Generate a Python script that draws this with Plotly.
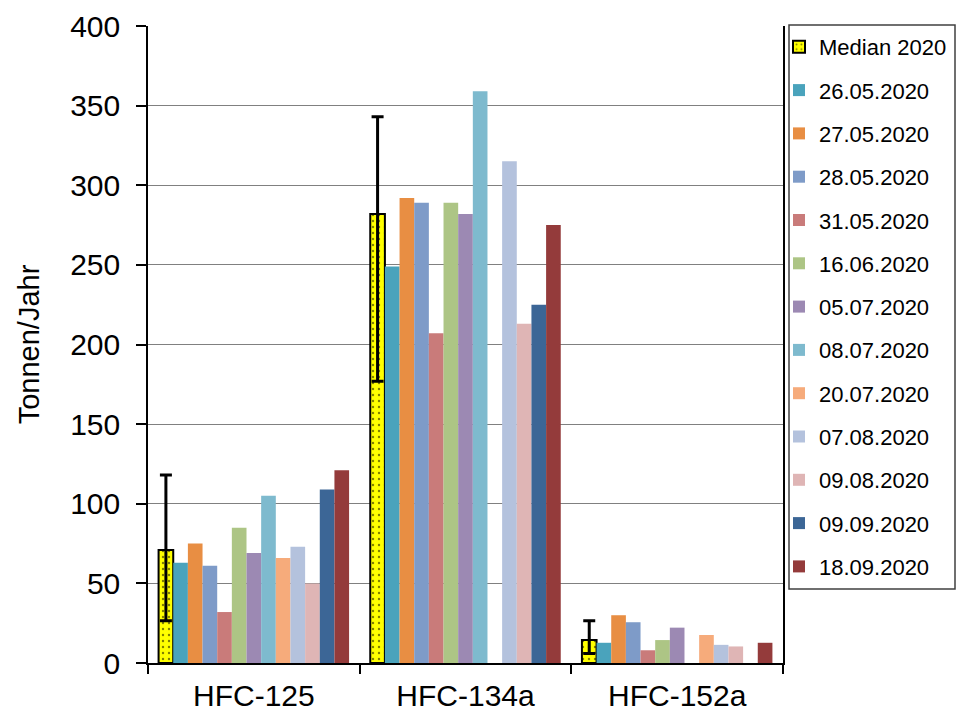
import plotly.graph_objects as go

categories = ["HFC-125", "HFC-134a", "HFC-152a"]

median_2020 = [71, 282, 14.4]
median_upper = [118, 343, 26.5]
median_lower = [26.5, 177, 6]

dates = ["26.05.2020", "27.05.2020", "28.05.2020", "31.05.2020", "16.06.2020",
         "05.07.2020", "08.07.2020", "20.07.2020", "07.08.2020", "09.08.2020",
         "09.09.2020", "18.09.2020"]

hfc125 = [63, 75, 61, 32, 85, 69, 105, 66, 73, 50, 109, 121]
hfc134a = [249, 292, 289, 207, 289, 282, 359, None, 315, 213, 225, 275]
hfc152a = [12.7, 30, 25.6, 8, 14.4, 22.2, None, 17.6, 11.4, 10.4, None, 12.7]

colors = ["#4AA3BC", "#E88E43", "#7E9BC8", "#C97B7A", "#ADC585", "#9C89B3",
          "#7EBACE", "#F6AB7B", "#B4C2DD", "#DFB5B5", "#3C6696", "#943B3B"]

FONT = "Arial, Liberation Sans, sans-serif"

fig = go.Figure()

err_plus = [u - m for u, m in zip(median_upper, median_2020)]
err_minus = [m - l for m, l in zip(median_2020, median_lower)]

fig.add_trace(go.Bar(
    x=categories, y=median_2020, name="Median 2020", legendgroup="g0",
    marker=dict(color="#FFFF00", line=dict(color="black", width=2),
                pattern=dict(shape=".", fgcolor="black", bgcolor="#FFFF00",
                             size=6, solidity=0.12)),
    error_y=dict(type="data", array=err_plus, arrayminus=err_minus,
                 color="black", thickness=3, width=6),
))

for i, (d, c) in enumerate(zip(dates, colors)):
    vals = [hfc125[i], hfc134a[i], hfc152a[i]]
    fig.add_trace(go.Bar(x=categories, y=vals, name=d, legendgroup=f"g{i+1}",
                         marker=dict(color=c, line=dict(width=0))))

L, R, T, B = 148, 173, 26, 54
W, H = 956, 717
pw = W - L - R
ph = H - T - B

def px_x(px):
    return (px - L) / pw

def px_y(py):
    return (H - B - py) / ph

fig.add_shape(type="rect", xref="paper", yref="paper",
              x0=px_x(789), x1=px_x(955), y0=px_y(589), y1=px_y(25),
              line=dict(color="#404040", width=1.5), fillcolor="white", layer="below")

fig.update_layout(
    width=W, height=H,
    margin=dict(l=L, r=R, t=T, b=B, pad=0, autoexpand=False),
    paper_bgcolor="white", plot_bgcolor="white",
    barmode="group", bargap=0.1, bargroupgap=0,
    font=dict(family=FONT, color="black"),
    showlegend=True,
    legend=dict(x=px_x(779), xanchor="left", y=px_y(26), yanchor="top",
                font=dict(size=22, family=FONT, color="black"),
                traceorder="grouped", tracegroupgap=11.7,
                bgcolor="rgba(0,0,0,0)", borderwidth=0, itemwidth=30,
                maxheight=700),
    xaxis=dict(showline=True, linecolor="black", linewidth=1.5,
               ticks="outside", tickson="boundaries", ticklen=9,
               tickcolor="black", tickwidth=1.5,
               tickfont=dict(size=30, family=FONT), ticklabelstandoff=5),
    yaxis=dict(range=[0, 400], dtick=50, showline=True, linecolor="black",
               linewidth=1.5, mirror=True, ticks="outside", ticklen=10,
               tickcolor="black", tickwidth=1.5,
               showgrid=True, gridcolor="#808080", gridwidth=1.2,
               zeroline=False,
               tickfont=dict(size=30, family=FONT), ticklabelstandoff=10,
               title=dict(text="Tonnen/Jahr", font=dict(size=29, family=FONT),
                          standoff=22)),
)

fig.write_html("out.html", config={"displayModeBar": False},
               post_script="document.body.style.margin='0';document.body.style.overflow='hidden';")
